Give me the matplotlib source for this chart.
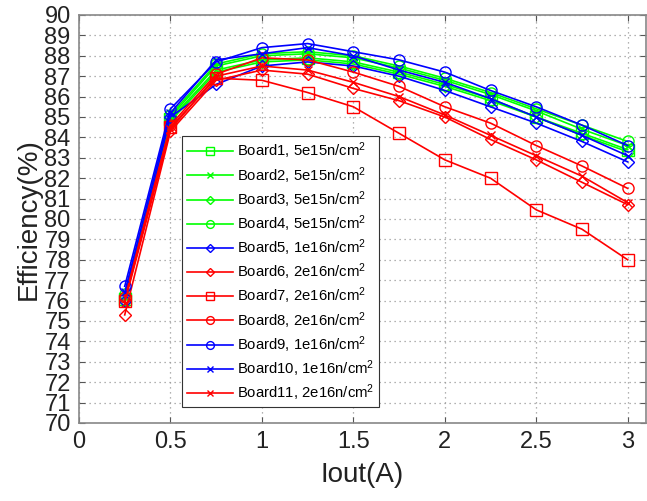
import numpy as np
import matplotlib.pyplot as plt

plt.rcParams['font.family'] = ['Liberation Sans', 'DejaVu Sans']
plt.rcParams['mathtext.default'] = 'regular'

#output current (A)
iout = [0.25, 0.5, 0.75, 1.0, 1.25, 1.5, 1.75, 2.0, 2.25, 2.5, 2.75, 3.0]

#efficiency readings per board (%)
board1 = [76.1, 84.9, 87.3, 87.8, 87.9, 87.7, 87.2, 86.6, 85.9, 85.0, 84.2, 83.4]
board2 = [76.2, 85.0, 87.5, 88.0, 88.1, 87.9, 87.4, 86.8, 86.1, 85.3, 84.4, 83.6]
board3 = [76.0, 84.8, 87.2, 87.7, 87.8, 87.6, 87.1, 86.5, 85.8, 85.0, 84.1, 83.3]
board4 = [76.3, 85.1, 87.6, 88.1, 88.2, 88.0, 87.5, 86.9, 86.2, 85.4, 84.6, 83.8]
board5 = [76.0, 85.0, 86.6, 87.5, 87.7, 87.5, 87.0, 86.3, 85.5, 84.7, 83.8, 82.8]
board6 = [75.3, 84.3, 86.8, 87.3, 87.1, 86.4, 85.8, 85.0, 83.9, 82.9, 81.8, 80.7]
board7 = [76.0, 84.5, 86.9, 86.8, 86.2, 85.5, 84.2, 82.9, 82.0, 80.45, 79.5, 78.0]
board8 = [76.2, 84.6, 87.1, 87.9, 87.8, 87.2, 86.5, 85.5, 84.7, 83.6, 82.6, 81.5]
board9 = [76.7, 85.4, 87.7, 88.4, 88.6, 88.2, 87.8, 87.2, 86.3, 85.5, 84.6, 83.6]
board10 = [76.4, 85.2, 87.8, 88.1, 88.4, 88.0, 87.3, 86.7, 85.9, 85.0, 84.1, 83.1]
board11 = [75.9, 84.4, 87.0, 87.5, 87.3, 86.7, 86.0, 85.1, 84.1, 83.1, 82.1, 80.8]

series = [
    (board1, 'lime', 's', 'Board1, 5e15n/cm$^2$'),
    (board2, 'lime', 'x', 'Board2, 5e15n/cm$^2$'),
    (board3, 'lime', 'D', 'Board3, 5e15n/cm$^2$'),
    (board4, 'lime', 'o', 'Board4, 5e15n/cm$^2$'),
    (board5, 'blue', 'D', 'Board5, 1e16n/cm$^2$'),
    (board6, 'red', 'D', 'Board6, 2e16n/cm$^2$'),
    (board7, 'red', 's', 'Board7, 2e16n/cm$^2$'),
    (board8, 'red', 'o', 'Board8, 2e16n/cm$^2$'),
    (board9, 'blue', 'o', 'Board9, 1e16n/cm$^2$'),
    (board10, 'blue', 'x', 'Board10, 1e16n/cm$^2$'),
    (board11, 'red', 'x', 'Board11, 2e16n/cm$^2$'),
]
msize = {'s': 8, 'o': 8, 'D': 6.5, 'x': 6}

fig = plt.figure(figsize=(6.47, 5.01), dpi=100)
ax = fig.add_axes([79/647, 1-423/501, 567/647, 408/501])

for vals, col, mk, lab in series:
    ax.plot(iout, vals, color=col, marker=mk, markersize=msize[mk],
            markerfacecolor='none', markeredgecolor=col, linewidth=1.2, label=lab)

ax.set_xlim(0, 3.1)
ax.set_ylim(70, 90)
ax.set_xticks([0, 0.5, 1, 1.5, 2, 2.5, 3])
ax.set_xticklabels(['0', '0.5', '1', '1.5', '2', '2.5', '3'])
ax.set_yticks(np.arange(70, 91, 1))
ax.tick_params(direction='in', top=True, right=True, labelsize=17, length=4,
               color='#555555', labelcolor='#222222', pad=6)
ax.grid(True, linestyle=(0, (1, 3)), color='#999999', linewidth=0.9)
for s in ax.spines.values():
    s.set_color('#888888')
    s.set_linewidth(1.2)

ax.set_xlabel('Iout(A)', fontsize=20, color='#222222', labelpad=6)
ax.set_ylabel('Efficiency(%)', fontsize=20, color='#222222', labelpad=2)

leg = ax.legend(loc='lower left', bbox_to_anchor=(0.182, 0.038), fontsize=10.7,
                handlelength=3.1, labelspacing=0.24, borderpad=0.3,
                handletextpad=0.3, markerscale=0.7, fancybox=False, framealpha=1,
                edgecolor='#333333', borderaxespad=0)
leg.get_frame().set_linewidth(0.8)

plt.savefig('out.png', dpi=100)
